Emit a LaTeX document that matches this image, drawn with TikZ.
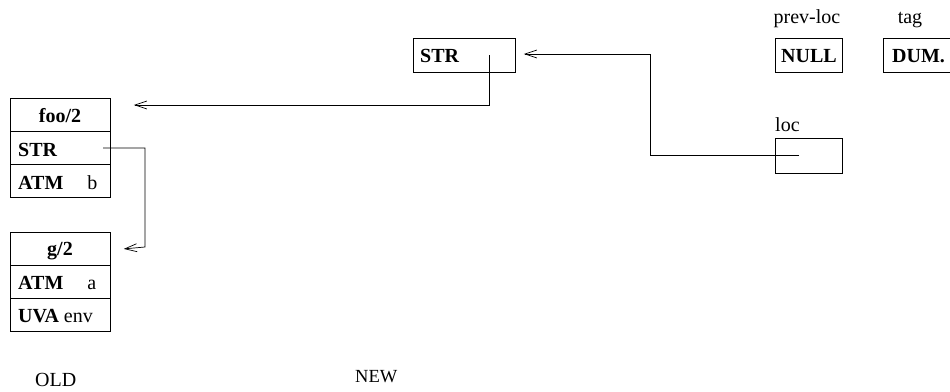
\documentclass[tikz,border=0pt]{standalone}
\usepackage{fontspec}
\setmainfont{Liberation Serif}
\usetikzlibrary{arrows.meta}
\begin{document}
\begin{tikzpicture}[x=1pt,y=-1pt,
  font=\fontsize{20}{22}\selectfont,
  cell/.style={draw,line width=0.8pt,rectangle,inner sep=0pt,anchor=north west},
  lbl/.style={inner sep=0pt,anchor=base west},
  clbl/.style={inner sep=0pt,anchor=base},
  link/.style={line width=0.7pt,-{Straight Barb[length=12pt,width=8pt,line width=0.7pt]}}]
\useasboundingbox (0,0) rectangle (950,391);

% ---- OLD: term foo/2 ----
\node[cell,minimum width=100pt,minimum height=33pt] (fooh) at (10,98) {};
\node[cell,minimum width=100pt,minimum height=33pt] (foos) at (10,131) {};
\node[cell,minimum width=100pt,minimum height=33pt] (fooa) at (10,164) {};
\node[clbl] (foot) at (60,122) {\textbf{foo/2}};
\node[lbl] (foost) at (18,156) {\textbf{STR}};
\node[lbl] (fooat) at (18,189) {\textbf{ATM}\hspace{24pt}b};

% ---- OLD: term g/2 ----
\node[cell,minimum width=100pt,minimum height=33pt] (gh) at (10,232) {};
\node[cell,minimum width=100pt,minimum height=33pt] (ga) at (10,265) {};
\node[cell,minimum width=100pt,minimum height=33pt] (gu) at (10,298) {};
\node[clbl] (gt) at (60,255) {\textbf{g/2}};
\node[lbl] (gat) at (18,289) {\textbf{ATM}\hspace{24pt}a};
\node[lbl] (gut) at (18,322) {\textbf{UVA} env};

% ---- NEW: STR cell ----
\node[cell,minimum width=102pt,minimum height=34pt] (str) at (413,38) {};
\node[lbl] (strt) at (420,62) {\textbf{STR}};

% ---- registers ----
\node[clbl] (plt) at (807,23) {prev-loc};
\node[cell,minimum width=67pt,minimum height=34pt] (null) at (775,38) {};
\node[clbl] (nullt) at (809,62) {\textbf{NULL}};
\node[clbl] (tagt) at (910,23) {tag};
\node[cell,minimum width=80pt,minimum height=34pt] (dum) at (883,38) {};
\node[lbl] (dumt) at (892,62) {\textbf{DUM.}};
\node[lbl] (loct) at (775,131) {loc};
\node[cell,minimum width=67pt,minimum height=35pt] (loc) at (775,138) {};

% ---- captions ----
\node[lbl] (old) at (35,386) {OLD};
\node[lbl,font=\fontsize{18.5}{20}\selectfont] (new) at (355,382) {NEW};

% ---- pointer endpoints ----
\coordinate (fooptr) at (103,148);
\coordinate (strptr) at (489,55);
\coordinate (locptr) at (799,155);

% ---- pointers ----
\draw[link] (fooptr) -- (145,148) -- (145,247) -- ([xshift=13pt]gh.east);
\draw[link] (strptr) -- (489,105) -- ([xshift=23pt]fooh.north east |- 0,105);
\draw[link] (locptr) -- (650,155) -- (650,54) -- ([xshift=8pt]str.east |- 0,54);
\end{tikzpicture}
\end{document}
